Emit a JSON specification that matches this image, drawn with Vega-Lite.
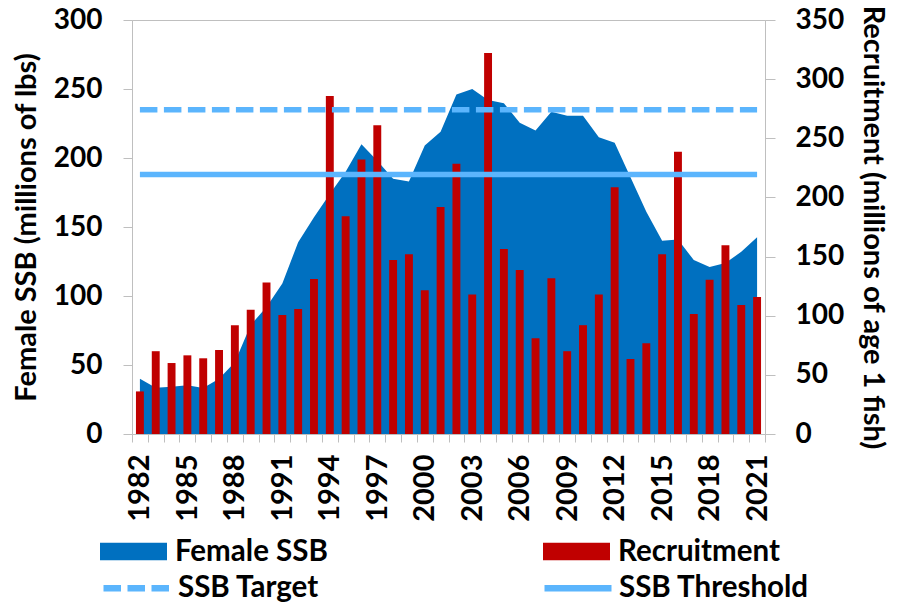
{
  "$schema": "https://vega.github.io/schema/vega-lite/v6.json",
  "width": 633,
  "height": 414,
  "autosize": {"type": "none"},
  "padding": {"left": 132, "top": 20, "right": 140, "bottom": 168},
  "background": "white",
  "config": {
    "font": "Lato",
    "view": {"stroke": "#BFBFBF", "strokeWidth": 1},
    "axis": {
      "labelFont": "Lato", "labelFontWeight": "bold", "labelColor": "black",
      "titleFont": "Lato", "titleFontWeight": "bold", "titleColor": "black",
      "domainColor": "#BFBFBF", "tickColor": "#BFBFBF", "grid": false
    },
    "legend": {
      "labelFont": "Lato", "labelFontSize": 29.5, "labelFontWeight": "bold", "labelColor": "black",
      "padding": 0, "labelLimit": 400
    }
  },
  "title": {
    "text": "Stock Biomass and Recruitment", "fontSize": 27, "fontWeight": "bold",
    "font": "Lato", "color": "black", "baseline": "alphabetic", "offset": 3, "anchor": "middle"
  },
  "datasets": {
    "d": [
      {"year": 1982, "ssb": 40, "rec": 36},
      {"year": 1983, "ssb": 33.6, "rec": 70},
      {"year": 1984, "ssb": 34.3, "rec": 60},
      {"year": 1985, "ssb": 35.3, "rec": 66.5},
      {"year": 1986, "ssb": 33.3, "rec": 64},
      {"year": 1987, "ssb": 40, "rec": 71},
      {"year": 1988, "ssb": 52, "rec": 92},
      {"year": 1989, "ssb": 79, "rec": 105},
      {"year": 1990, "ssb": 92, "rec": 128},
      {"year": 1991, "ssb": 109, "rec": 100.6},
      {"year": 1992, "ssb": 139, "rec": 105.7},
      {"year": 1993, "ssb": 157, "rec": 131},
      {"year": 1994, "ssb": 174, "rec": 285.7},
      {"year": 1995, "ssb": 190, "rec": 184},
      {"year": 1996, "ssb": 210, "rec": 232},
      {"year": 1997, "ssb": 198, "rec": 261},
      {"year": 1998, "ssb": 185, "rec": 147},
      {"year": 1999, "ssb": 183, "rec": 152},
      {"year": 2000, "ssb": 209, "rec": 121.5},
      {"year": 2001, "ssb": 219, "rec": 192},
      {"year": 2002, "ssb": 246, "rec": 228.5},
      {"year": 2003, "ssb": 250, "rec": 118},
      {"year": 2004, "ssb": 242, "rec": 322},
      {"year": 2005, "ssb": 239.6, "rec": 156.4},
      {"year": 2006, "ssb": 225.6, "rec": 138.6},
      {"year": 2007, "ssb": 220, "rec": 81},
      {"year": 2008, "ssb": 233.6, "rec": 131.6},
      {"year": 2009, "ssb": 230.7, "rec": 70},
      {"year": 2010, "ssb": 230.7, "rec": 92},
      {"year": 2011, "ssb": 215, "rec": 118},
      {"year": 2012, "ssb": 211, "rec": 208.5},
      {"year": 2013, "ssb": 186, "rec": 63.4},
      {"year": 2014, "ssb": 161, "rec": 76.7},
      {"year": 2015, "ssb": 140, "rec": 152},
      {"year": 2016, "ssb": 141, "rec": 238.7},
      {"year": 2017, "ssb": 126, "rec": 101.4},
      {"year": 2018, "ssb": 121, "rec": 130.5},
      {"year": 2019, "ssb": 124, "rec": 159.5},
      {"year": 2020, "ssb": 132, "rec": 109},
      {"year": 2021, "ssb": 142.5, "rec": 115.8}
    ],
    "refs": [
      {"series": "SSB Target", "level": 235, "start": 1982, "end": 2021},
      {"series": "SSB Threshold", "level": 188, "start": 1982, "end": 2021}
    ]
  },
  "layer": [
    {
      "data": {"name": "d"},
      "mark": {"type": "area", "opacity": 1},
      "encoding": {
        "x": {
          "field": "year", "type": "ordinal",
          "scale": {"paddingInner": 0, "paddingOuter": 0},
          "axis": {
            "title": null, "labelAngle": -90, "labelFontSize": 29,
            "labelExpr": "(datum.value - 1982) % 3 == 0 ? datum.label : ''",
            "labelOverlap": false, "tickBand": "extent", "tickSize": 8,
            "labelPadding": 12, "labelBaseline": "middle", "labelAlign": "right"
          }
        },
        "y": {
          "field": "ssb", "type": "quantitative", "stack": null,
          "scale": {"domain": [0, 300]},
          "axis": {
            "title": "Female SSB (millions of lbs)", "values": [0, 50, 100, 150, 200, 250, 300],
            "labelFontSize": 28, "tickSize": 9, "labelPadding": 21,
            "titleFontSize": 29, "titlePadding": 12
          }
        },
        "color": {
          "datum": "Female SSB", "type": "nominal", "title": null,
          "scale": {"domain": ["Female SSB", "Recruitment"], "range": ["#0070C0", "#C00000"]},
          "legend": {
            "orient": "none", "legendX": -32, "legendY": 498, "direction": "horizontal", "title": null,
            "symbolType": "M-1,-0.264H1V0.264H-1Z", "symbolSize": 4489, "symbolStrokeWidth": 0,
            "symbolOpacity": 1, "labelOffset": 8, "columnPadding": 215
          }
        }
      }
    },
    {
      "data": {"name": "d"},
      "mark": {"type": "bar", "width": {"band": 0.5}, "opacity": 1},
      "encoding": {
        "x": {"field": "year", "type": "ordinal"},
        "y": {
          "field": "rec", "type": "quantitative", "stack": null,
          "scale": {"domain": [0, 350]},
          "axis": {
            "orient": "right", "title": "Recruitment (millions of age 1 fish)",
            "values": [0, 50, 100, 150, 200, 250, 300, 350],
            "labelFontSize": 28, "tickSize": 10, "labelPadding": 20,
            "titleFontSize": 29, "titlePadding": 14
          }
        },
        "color": {"datum": "Recruitment", "type": "nominal", "title": null}
      }
    },
    {
      "data": {"name": "refs"},
      "mark": {"type": "rule", "strokeWidth": 5.5, "color": "#5BB5FD", "opacity": 1},
      "encoding": {
        "x": {"field": "start", "type": "ordinal"},
        "x2": {"field": "end"},
        "y": {"field": "level", "type": "quantitative", "scale": {"domain": [0, 300]}, "axis": null},
        "strokeDash": {
          "field": "series", "type": "nominal", "title": null,
          "scale": {"domain": ["SSB Target", "SSB Threshold"], "range": [[17.5, 6.5], [1, 0]]},
          "legend": {
            "orient": "none", "legendX": -32, "legendY": 531, "direction": "horizontal", "title": null,
            "symbolType": "stroke", "symbolSize": 4489, "symbolStrokeWidth": 6.5,
            "symbolStrokeColor": "#5BB5FD", "symbolOpacity": 1, "labelOffset": 4, "columnPadding": 211
          }
        }
      }
    }
  ],
  "resolve": {"scale": {"y": "independent"}}
}
